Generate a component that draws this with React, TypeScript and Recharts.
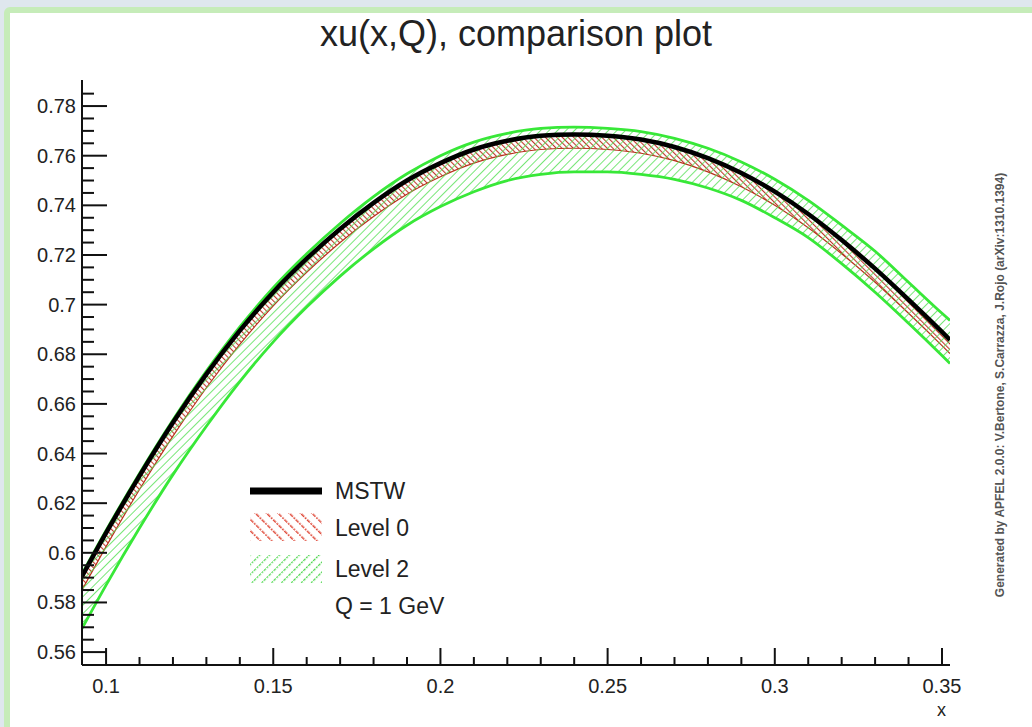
import { ComposedChart, Line, Area, XAxis, YAxis, Legend } from "recharts";

// x grid and curves
const X_VALUES = [0.0928, 0.1, 0.11, 0.12, 0.13, 0.14, 0.15, 0.16, 0.17, 0.18, 0.19, 0.2, 0.21, 0.22, 0.23, 0.24, 0.25, 0.26, 0.27, 0.28, 0.29, 0.3, 0.31, 0.32, 0.33, 0.34, 0.35, 0.3524];
const MSTW = [0.5905, 0.608, 0.631, 0.6525, 0.672, 0.6895, 0.705, 0.7185, 0.7305, 0.741, 0.75, 0.757, 0.7625, 0.766, 0.768, 0.7685, 0.768, 0.7665, 0.7635, 0.759, 0.753, 0.7455, 0.7365, 0.726, 0.7145, 0.702, 0.689, 0.6858];
const LEVEL0_LOW = [0.585, 0.6025, 0.6255, 0.647, 0.6665, 0.684, 0.6995, 0.713, 0.725, 0.7355, 0.7445, 0.7515, 0.757, 0.7605, 0.7625, 0.763, 0.7625, 0.761, 0.758, 0.7535, 0.7475, 0.74, 0.731, 0.7205, 0.709, 0.6965, 0.6835, 0.6803];
const LEVEL0_HIGH = [0.5908, 0.6083, 0.6313, 0.6528, 0.6723, 0.6898, 0.7053, 0.7188, 0.7308, 0.7413, 0.7503, 0.7573, 0.7628, 0.7663, 0.7683, 0.7688, 0.7683, 0.7668, 0.7638, 0.7593, 0.7533, 0.7458, 0.7368, 0.7263, 0.7148, 0.7023, 0.6893, 0.6861];
const LEVEL2_LOW = [0.5695, 0.587, 0.61, 0.6315, 0.651, 0.669, 0.685, 0.699, 0.7115, 0.7225, 0.732, 0.7395, 0.7455, 0.75, 0.7525, 0.7535, 0.7535, 0.7525, 0.7505, 0.747, 0.742, 0.735, 0.727, 0.7165, 0.705, 0.6925, 0.6795, 0.6763];
const LEVEL2_HIGH = [0.5915, 0.609, 0.632, 0.6535, 0.6732, 0.691, 0.7068, 0.7205, 0.7327, 0.7435, 0.7527, 0.76, 0.7655, 0.769, 0.771, 0.7715, 0.771, 0.7697, 0.767, 0.763, 0.7575, 0.7505, 0.742, 0.732, 0.7215, 0.709, 0.6965, 0.6936];

const X_DOMAIN = [0.0928, 0.3524];
const Y_DOMAIN = [0.5548, 0.7905];
const X_MAJOR = [0.1, 0.15, 0.2, 0.25, 0.3, 0.35];
const Y_MAJOR = [0.56, 0.58, 0.6, 0.62, 0.64, 0.66, 0.68, 0.7, 0.72, 0.74, 0.76, 0.78];

const rows = X_VALUES.map((x, i) => ({
  x,
  mstw: MSTW[i],
  level0: [LEVEL0_LOW[i], LEVEL0_HIGH[i]],
  level2: [LEVEL2_LOW[i], LEVEL2_HIGH[i]],
}));

// minor ticks: every 0.01 on x, every 0.005 on y
const xTicks: number[] = [];
for (let k = 10; k <= 35; k++) xTicks.push(k / 100);
const yTicks: number[] = [];
for (let k = 112; k <= 157; k++) yTicks.push(k / 200);

const near = (a: number, list: number[]) => list.some((b) => Math.abs(a - b) < 1e-6);
const fmt = (v: number) => String(parseFloat(v.toFixed(3)));
const FONT = '"Liberation Sans", Arial, sans-serif';
const INK = "#111";

function LeftTick(p: any) {
  const major = near(p.payload.value, Y_MAJOR);
  return (
    <g>
      <line x1={p.x} x2={p.x + (major ? 25 : 12)} y1={p.y} y2={p.y} stroke={INK} strokeWidth={2} />
      {major && (
        <text x={p.x - 6} y={p.y} textAnchor="end" dominantBaseline="central" fontSize={20} fontFamily={FONT} fill="#222">
          {fmt(p.payload.value)}
        </text>
      )}
    </g>
  );
}

function RightTick(p: any) {
  const major = near(p.payload.value, Y_MAJOR);
  return <line x1={p.x} x2={p.x - (major ? 25 : 12)} y1={p.y} y2={p.y} stroke={INK} strokeWidth={2} />;
}

function BottomTick(p: any) {
  const major = near(p.payload.value, X_MAJOR);
  return (
    <g>
      <line x1={p.x} x2={p.x} y1={p.y} y2={p.y - (major ? 17 : 8)} stroke={INK} strokeWidth={2} />
      {major && (
        <text x={p.x} y={p.y + 21} textAnchor="middle" dominantBaseline="central" fontSize={20} fontFamily={FONT} fill="#222">
          {fmt(p.payload.value)}
        </text>
      )}
    </g>
  );
}

function TopTick(p: any) {
  const major = near(p.payload.value, X_MAJOR);
  return <line x1={p.x} x2={p.x} y1={p.y} y2={p.y + (major ? 17 : 8)} stroke={INK} strokeWidth={2} />;
}

function LegendBox() {
  return (
    <svg width={260} height={160} style={{ display: "block" }}>
      <defs>
        <pattern id="legRed" width={8} height={8} patternUnits="userSpaceOnUse" patternTransform="rotate(-45)">
          <line x1={0} y1={0} x2={0} y2={8} stroke="#e04a3a" strokeWidth={3} strokeDasharray="2 1" />
        </pattern>
        <pattern id="legGreen" width={7} height={7} patternUnits="userSpaceOnUse" patternTransform="rotate(45)">
          <line x1={0} y1={0} x2={0} y2={7} stroke="#4fd84f" strokeWidth={2.5} strokeDasharray="2 1" />
        </pattern>
      </defs>
      <line x1={10} x2={82} y1={26} y2={26} stroke="#000" strokeWidth={7} />
      <text x={95} y={26} dominantBaseline="central" fontSize={23} fontFamily={FONT} fill="#222">MSTW</text>
      <rect x={10} y={48} width={72} height={28} fill="url(#legRed)" />
      <text x={95} y={63} dominantBaseline="central" fontSize={23} fontFamily={FONT} fill="#222">Level 0</text>
      <rect x={10} y={90} width={72} height={28} fill="url(#legGreen)" />
      <text x={95} y={104} dominantBaseline="central" fontSize={23} fontFamily={FONT} fill="#222">Level 2</text>
      <text x={95} y={141} dominantBaseline="central" fontSize={23} fontFamily={FONT} fill="#222">Q = 1 GeV</text>
    </svg>
  );
}

export default function App() {
  return (
    <div style={{ position: "fixed", left: 0, top: 0, width: 1032, height: 727, background: "#dfe7ee", overflow: "hidden", fontFamily: FONT }}>
      <div style={{ position: "absolute", left: 4, top: 7, width: 1100, height: 800, background: "#fff", border: "6px solid #c6ecb9", borderRadius: 6 }} />
      <div style={{ position: "absolute", left: 0, width: 1032, top: 14, textAlign: "center", fontSize: 36, color: "#222", lineHeight: "40px" }}>
        xu(x,Q), comparison plot
      </div>
      <div
        style={{
          position: "absolute", left: 1000, top: 385, transform: "translate(-50%, -50%) rotate(-90deg)",
          whiteSpace: "nowrap", fontSize: 12, fontWeight: "bold", color: "#555",
        }}
      >
        Generated by APFEL 2.0.0: V.Bertone, S.Carrazza, J.Rojo (arXiv:1310.1394)
      </div>
      <div style={{ position: "absolute", left: 937, top: 700, fontSize: 18, color: "#222" }}>x</div>
      <ComposedChart width={1032} height={727} data={rows} margin={{ top: 80, right: 82, bottom: 22, left: 22 }} style={{ position: "absolute", left: 0, top: 0 }}>
        <defs>
          <pattern id="hatchRed" width={4} height={4} patternUnits="userSpaceOnUse" patternTransform="rotate(-45)">
            <line x1={0} y1={0} x2={0} y2={4} stroke="#c0392b" strokeWidth={2.2} />
          </pattern>
          <pattern id="hatchGreen" width={6} height={6} patternUnits="userSpaceOnUse" patternTransform="rotate(45)">
            <line x1={0} y1={0} x2={0} y2={6} stroke="#55e055" strokeWidth={1.6} />
          </pattern>
        </defs>
        <XAxis xAxisId="b" dataKey="x" type="number" domain={X_DOMAIN} allowDataOverflow ticks={xTicks} interval={0} tickSize={0} tickMargin={0} tickLine={false} tick={BottomTick} axisLine={{ stroke: INK, strokeWidth: 2 }} height={40} />
        <XAxis xAxisId="t" orientation="top" dataKey="x" type="number" domain={X_DOMAIN} allowDataOverflow ticks={xTicks} interval={0} tickSize={0} tickMargin={0} tickLine={false} tick={TopTick} axisLine={{ stroke: INK, strokeWidth: 2 }} height={0} />
        <YAxis yAxisId="l" type="number" domain={Y_DOMAIN} allowDataOverflow ticks={yTicks} interval={0} tickSize={0} tickMargin={0} tickLine={false} tick={LeftTick} axisLine={{ stroke: INK, strokeWidth: 2 }} width={60} />
        <YAxis yAxisId="r" orientation="right" type="number" domain={Y_DOMAIN} allowDataOverflow ticks={yTicks} interval={0} tickSize={0} tickMargin={0} tickLine={false} tick={RightTick} axisLine={{ stroke: INK, strokeWidth: 2 }} width={0} />
        <Line xAxisId="b" yAxisId="l" dataKey="mstw" name="MSTW" type="monotone" stroke="#000" strokeWidth={4.5} dot={false} isAnimationActive={false} />
        <Area xAxisId="b" yAxisId="l" dataKey="level0" name="Level 0" type="monotone" fill="url(#hatchRed)" fillOpacity={1} stroke="#b8341e" strokeWidth={1.2} isAnimationActive={false} />
        <Area xAxisId="b" yAxisId="l" dataKey="level2" name="Level 2" type="monotone" fill="url(#hatchGreen)" fillOpacity={1} stroke="#38e838" strokeWidth={2.8} isAnimationActive={false} />
        <Legend content={LegendBox} layout="horizontal" verticalAlign="middle" align="center" wrapperStyle={{ left: 240, top: 465, width: 260, height: 160 }} />
      </ComposedChart>
    </div>
  );
}
